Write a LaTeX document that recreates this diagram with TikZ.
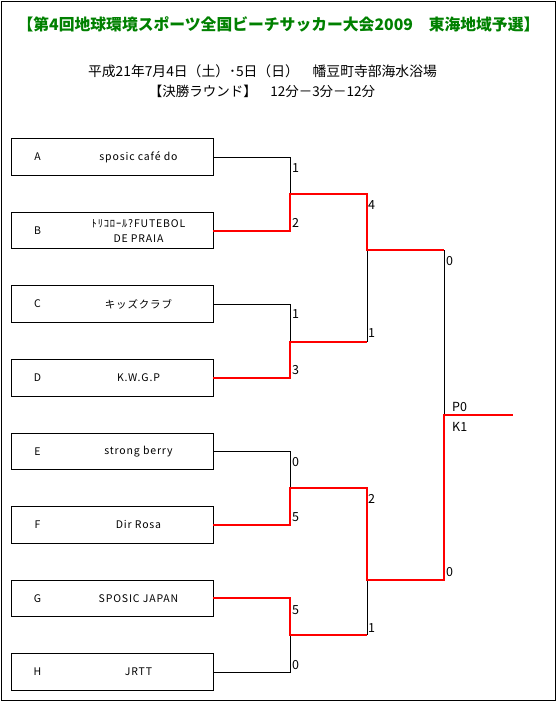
\documentclass[tikz,border=0pt]{standalone}
\usepackage{fontspec}
\setmainfont{Noto Sans CJK JP}
\newfontfamily\teamfont[LetterSpace=8]{Noto Sans CJK JP}
\usepackage{xcolor}
\definecolor{titlegreen}{RGB}{0,128,0}
\definecolor{winred}{RGB}{255,0,0}
\tikzset{
	team/.style={draw, line width=0.8pt, minimum width=202pt, minimum height=36.5pt, inner sep=0pt},
	teamtext/.style={inner sep=0pt, align=center, font=\teamfont\fontsize{10.5}{15}\selectfont},
	score/.style={anchor=west, inner sep=0pt, font=\fontsize{12.5}{13}\selectfont},
	lose/.style={line width=0.8pt},
	win/.style={winred, line width=2pt}
}
\begin{document}
\begin{tikzpicture}[x=1pt,y=-1pt]
	\useasboundingbox (0,0) rectangle (557,702);
	\draw[line width=1pt] (1,1) rectangle (555.5,700.5);
	
	% heading
	\node[titlegreen, font=\bfseries\fontsize{15.8}{17}\selectfont] (title) at (278.5,24)
		{【第4回地球環境スポーツ全国ビーチサッカー大会2009　東海地域予選】};
	\node[font=\fontsize{13.8}{15}\selectfont] (date) at (262.5,71)
		{平成21年7月4日（土）･5日（日）　幡豆町寺部海水浴場};
	\node[font=\fontsize{13.5}{15}\selectfont] (round) at (262,91)
		{【決勝ラウンド】　12分－3分－12分};
	
	% teams
	\foreach \x/\y [count=\i from 0] in
	{A/{sposic café do}, B/{ﾄﾘｺﾛｰﾙ?FUTEBOL\\DE PRAIA}, C/{キッズクラブ}, D/{K.W.G.P},
	 E/{strong berry}, F/{Dir Rosa}, G/{SPOSIC JAPAN}, H/{JRTT}}{
		\node[team] (\x) at (112,157+73.57*\i) {};
		\node[teamtext] (\x l) at (37.5,157+73.57*\i) {\x};
		\node[teamtext] (\x n) at (138.5,157+73.57*\i) {\y};
	}
	
	% junctions
	\foreach \x/\y in
	{m1/193.8, m2/341.5, m3/488, m4/635}{
		\coordinate (\x) at (290,\y);
	}
	\coordinate (s1) at (367,250);
	\coordinate (s2) at (367,580);
	\coordinate (t1) at (444,250);
	\coordinate (t2) at (444,580);
	\coordinate (f) at (444,414.5);
	\coordinate (w) at (513,414.5);
	
	% losing sides
	\draw[lose] (A.east) -| (m1);
	\draw[lose] (C.east) -| (m2);
	\draw[lose] (E.east) -| (m3);
	\draw[lose] (H.east) -| (m4);
	\draw[lose] (s1) -- (s1 |- m2);
	\draw[lose] (s2) -- (s2 |- m4);
	\draw[lose] (t1) -- (f);
	
	% winning sides
	\draw[win] (B.east) -| (m1) -| (s1) -- (t1);
	\draw[win] (D.east) -| (m2) -- (s1 |- m2);
	\draw[win] (F.east) -| (m3) -| (s2) -- (t2) -- (f) -- (w);
	\draw[win] (G.east) -| (m4) -- (s2 |- m4);
	
	% scores
	\foreach \x/\y/\s [count=\i] in
	{292/168/1, 292/223/2, 292/314/1, 292/370/3,
	 292/462/0, 292/517/5, 292/610/5, 292/665/0,
	 368/205/4, 368/333/1, 368/499/2, 368/628/1,
	 446/261/0, 446/572/0, 452/407/P0, 452/427/K1}{
		\node[score] (sc\i) at (\x,\y) {\s};
	}
\end{tikzpicture}
\end{document}
